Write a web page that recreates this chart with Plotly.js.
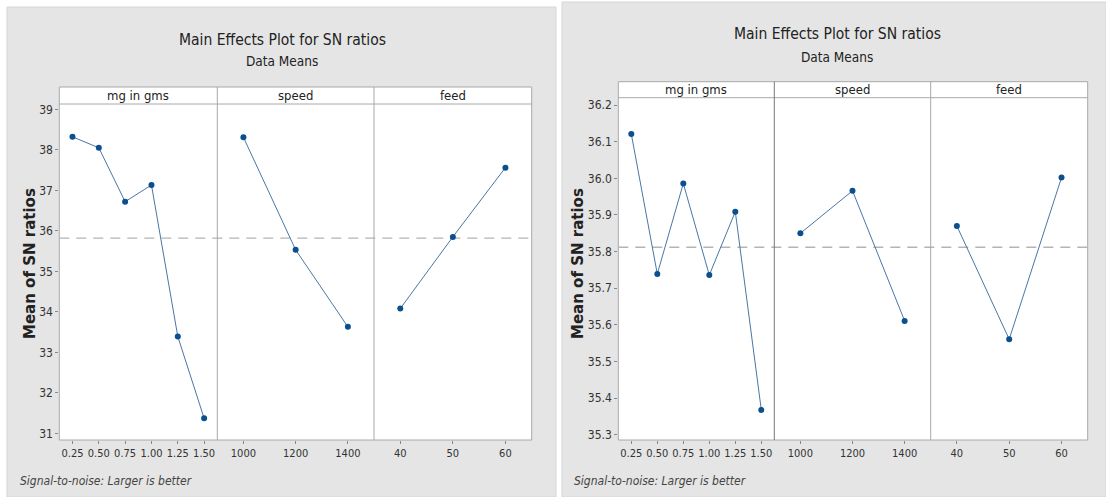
<!DOCTYPE html>
<html>
<head>
<meta charset="utf-8">
<script src="https://cdn.plot.ly/plotly-3.0.1.min.js"></script>
<style>html,body{margin:0;padding:0;background:#fff;}#chart{width:1106px;height:497px;}</style>
</head>
<body>
<div id="chart"></div>
<script>
// ---- data ----
const factorNames = ["mg in gms", "speed", "feed"];
const mgLevels = [0.25, 0.50, 0.75, 1.00, 1.25, 1.50];
const mgTickText = ["0.25", "0.50", "0.75", "1.00", "1.25", "1.50"];
const speedLevels = [1000, 1200, 1400];
const speedTickText = ["1000", "1200", "1400"];
const feedLevels = [40, 50, 60];
const feedTickText = ["40", "50", "60"];

// left plot
const snMgA = [38.32, 38.05, 36.72, 37.13, 33.39, 31.37];
const snSpeedA = [38.31, 35.53, 33.63];
const snFeedA = [34.08, 35.85, 37.56];
const meanA = 35.82;
const yTicksA = [31, 32, 33, 34, 35, 36, 37, 38, 39];

// right plot
const snMgB = [36.121, 35.739, 35.986, 35.736, 35.909, 35.368];
const snSpeedB = [35.850, 35.966, 35.611];
const snFeedB = [35.870, 35.561, 36.002];
const meanB = 35.812;
const yTicksB = [35.3, 35.4, 35.5, 35.6, 35.7, 35.8, 35.9, 36.0, 36.1, 36.2];

const titleText = "Main Effects Plot for SN ratios";
const subtitleText = "Data Means";
const yTitleText = "Mean of SN ratios";
const footText = "Signal-to-noise: Larger is better";

// ---- layout geometry (pixels) ----
const W = 1106, H = 497;
const px = x => x / W;
const py = y => 1 - y / H;
const FONT = "'Liberation Sans Narrow', 'DejaVu Sans Condensed', 'Liberation Sans', sans-serif";
const lineCol = "#4a76a4", markCol = "#0b4f8f";
const borderCol = "#a8a8a8";

const charts = [
  {xs: [59.3, 217.3, 374, 531.7], boxTop: 87, stripBot: 104, bottom: 440,
   yr: [30.835, 39.131], yt: yTicksA, yfmt: "", series: [snMgA, snSpeedA, snFeedA], mean: meanA,
   bg: [7, 7, 556, 497], titleX: 282, titleY: 40, subY: 61, yTitleX: 30, footX: 18},
  {xs: [618.3, 774.3, 930.7, 1087.7], boxTop: 81.7, stripBot: 97.7, bottom: 440,
   yr: [35.286, 36.220], yt: yTicksB, yfmt: ".1f", series: [snMgB, snSpeedB, snFeedB], mean: meanB,
   bg: [562, 2, 1106, 497], titleX: 837, titleY: 34, subY: 57, yTitleX: 578, footX: 572}
];
const levels = [mgLevels, speedLevels, feedLevels];
const tickTexts = [mgTickText, speedTickText, feedTickText];
const halfStep = [0.125, 100, 5];

const traces = [];
const layout = {
  width: W, height: H, margin: {l: 0, r: 0, t: 0, b: 0},
  paper_bgcolor: "#ffffff", plot_bgcolor: "rgba(0,0,0,0)",
  showlegend: false, shapes: [], annotations: [],
  font: {family: FONT, color: "#222", size: 12}
};

charts.forEach((c, ci) => {
  const yName = ci === 0 ? "y" : "y2";
  const yKey = ci === 0 ? "yaxis" : "yaxis2";
  layout.shapes.push({type: "rect", xref: "paper", yref: "paper", layer: "below",
    x0: px(c.bg[0]), x1: px(c.bg[2]), y0: py(c.bg[3]), y1: py(c.bg[1]),
    fillcolor: "#e5e5e5", line: {color: "#d6d6d6", width: 1}});
  layout.shapes.push({type: "rect", xref: "paper", yref: "paper", layer: "below",
    x0: px(c.xs[0]), x1: px(c.xs[3]), y0: py(c.bottom), y1: py(c.boxTop),
    fillcolor: "#ffffff", line: {color: borderCol, width: 1}});
  layout.shapes.push({type: "line", xref: "paper", yref: "paper", layer: "above",
    x0: px(c.xs[0]), x1: px(c.xs[3]), y0: py(c.stripBot), y1: py(c.stripBot),
    line: {color: borderCol, width: 1}});
  [1, 2].forEach(k => layout.shapes.push({type: "line", xref: "paper", yref: "paper", layer: "above",
    x0: px(c.xs[k]), x1: px(c.xs[k]), y0: py(c.bottom), y1: py(c.boxTop),
    line: {color: ci === 1 && k === 1 ? "#777" : borderCol, width: 1}}));
  layout.shapes.push({type: "line", xref: "paper", yref: yName, layer: "below",
    x0: px(c.xs[0]), x1: px(c.xs[3]), y0: c.mean, y1: c.mean,
    line: {color: "#b4b4b4", width: 1.3, dash: "10px,7px"}});

  layout[yKey] = {
    domain: [py(c.bottom), py(c.stripBot)], range: c.yr, anchor: "x" + (ci * 3 + 1),
    tickvals: c.yt, tickformat: c.yfmt, ticks: "outside", ticklen: 3, tickcolor: "#888",
    showgrid: false, zeroline: false, showline: false,
    tickfont: {family: FONT, size: 12, color: "#333"}, fixedrange: true
  };

  for (let f = 0; f < 3; f++) {
    const idx = ci * 3 + f + 1;
    const xKey = "xaxis" + (idx === 1 ? "" : idx);
    const lv = levels[f];
    layout[xKey] = {
      domain: [px(c.xs[f]), px(c.xs[f + 1])],
      range: [lv[0] - halfStep[f], lv[lv.length - 1] + halfStep[f]],
      anchor: yName, tickvals: lv, ticktext: tickTexts[f], tickangle: 0,
      ticks: "outside", ticklen: 3, tickcolor: "#888",
      showgrid: false, zeroline: false, showline: false,
      tickfont: {family: FONT, size: 11, color: "#333"}, fixedrange: true
    };
    traces.push({
      type: "scatter", mode: "lines+markers", x: lv, y: c.series[f],
      xaxis: "x" + (idx === 1 ? "" : idx), yaxis: yName,
      line: {color: lineCol, width: 1}, marker: {color: markCol, size: 6},
      hoverinfo: "x+y"
    });
    layout.annotations.push({xref: "paper", yref: "paper", showarrow: false,
      x: px((c.xs[f] + c.xs[f + 1]) / 2), y: py((c.boxTop + c.stripBot) / 2),
      xanchor: "center", yanchor: "middle", text: factorNames[f],
      font: {family: FONT, size: 13, color: "#222"}});
  }
  layout.annotations.push({xref: "paper", yref: "paper", showarrow: false,
    x: px(c.titleX), y: py(c.titleY), xanchor: "center", yanchor: "middle",
    text: titleText, font: {family: FONT, size: 15.5, color: "#222"}});
  layout.annotations.push({xref: "paper", yref: "paper", showarrow: false,
    x: px(c.titleX), y: py(c.subY), xanchor: "center", yanchor: "middle",
    text: subtitleText, font: {family: FONT, size: 13.5, color: "#222"}});
  layout.annotations.push({xref: "paper", yref: "paper", showarrow: false,
    x: px(c.yTitleX), y: py(264), xanchor: "center", yanchor: "middle", textangle: -90,
    text: "<b>" + yTitleText + "</b>", font: {family: "'DejaVu Sans', sans-serif", size: 15, color: "#222"}});
  layout.annotations.push({xref: "paper", yref: "paper", showarrow: false,
    x: px(c.footX), y: py(481), xanchor: "left", yanchor: "middle",
    text: "<i>" + footText + "</i>", font: {family: FONT, size: 12, color: "#444"}});
});

Plotly.newPlot("chart", traces, layout, {displayModeBar: false, staticPlot: true});
</script>
</body>
</html>
